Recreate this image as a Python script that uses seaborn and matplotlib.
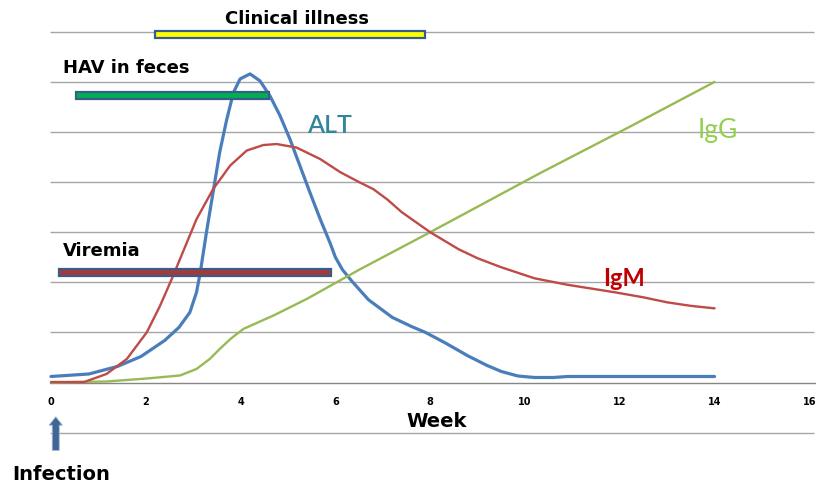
import seaborn as sns
import matplotlib.pyplot as plt
import pandas as pd

# curves (week, relative level)
alt_week = [0, 0.8, 1.4, 1.9, 2.4, 2.7, 2.93, 3.07, 3.15, 3.28, 3.42, 3.56, 3.71, 3.85, 3.99,
            4.2, 4.41, 4.62, 4.83, 5.04, 5.25, 5.46, 5.68, 5.89, 6.0, 6.15, 6.35, 6.7, 7.2,
            7.6, 7.9, 8.3, 8.8, 9.2, 9.5, 9.85, 10.2, 10.6, 10.9, 12, 14]
alt_level = [0.12, 0.17, 0.32, 0.52, 0.84, 1.1, 1.4, 1.8, 2.2, 3.0, 3.8, 4.6, 5.26, 5.79, 6.06,
             6.16, 6.02, 5.72, 5.33, 4.86, 4.33, 3.8, 3.26, 2.78, 2.5, 2.25, 2.02, 1.65, 1.3,
             1.12, 1.0, 0.8, 0.53, 0.34, 0.22, 0.13, 0.1, 0.1, 0.12, 0.12, 0.12]

igm_week = [0, 0.7, 1.17, 1.6, 2.02, 2.3, 2.55, 2.72, 3.07, 3.42, 3.78, 4.13, 4.48, 4.76, 5.18,
            5.68, 6.1, 6.5, 6.8, 7.1, 7.4, 7.7, 8.0, 8.6, 9.0, 9.5, 10.2, 10.9, 11.9, 12.5,
            13.0, 13.5, 14.0]
igm_level = [0.01, 0.01, 0.17, 0.47, 1.0, 1.53, 2.07, 2.46, 3.26, 3.86, 4.33, 4.63, 4.74, 4.76, 4.69,
             4.46, 4.2, 4.0, 3.86, 3.65, 3.4, 3.2, 3.0, 2.66, 2.48, 2.3, 2.08, 1.95, 1.8, 1.7,
             1.6, 1.53, 1.48]

igg_week = [0, 1.17, 2.02, 2.72, 3.07, 3.35, 3.56, 3.8, 4.06, 4.7, 5.4, 6.5, 8.0, 10.3, 12.2, 14.0]
igg_level = [0, 0.02, 0.08, 0.14, 0.27, 0.47, 0.67, 0.88, 1.07, 1.34, 1.67, 2.25, 3.0, 4.17, 5.1, 6.0]

# phase bars: label, start week, end week, level
phase_names = ["Clinical illness", "HAV in feces", "Viremia"]
phase_start = [2.19, 0.53, 0.17]
phase_end = [7.89, 4.6, 5.9]
phase_level = [6.95, 5.73, 2.19]
phase_colors = ["#ffff00", "#00b050", "#a23b3a"]

week_ticks = [0, 2, 4, 6, 8, 10, 12, 14, 16]

sns.set_style("white")
plt.rcParams['font.family'] = ['DejaVu Sans']
plt.rcParams['text.color'] = 'black'
plt.rcParams['xtick.labelcolor'] = 'black'

fig = plt.figure(figsize=(8.16, 4.85), dpi=100)
ax = fig.add_axes([0, 0, 1, 1])
ax.set_xlim(-1.076, 16.14)
ax.set_ylim(-2.026, 7.655)

# gridlines (incl. the stray one below the axis)
for y in [-1, 1, 2, 3, 4, 5, 6, 7]:
    ax.hlines(y, -0.02, 16.1, color="#a6a6a6", lw=1.0, zorder=1)

curves = pd.concat([
    pd.DataFrame({"week": alt_week, "level": alt_level, "marker": "ALT"}),
    pd.DataFrame({"week": igm_week, "level": igm_level, "marker": "IgM"}),
    pd.DataFrame({"week": igg_week, "level": igg_level, "marker": "IgG"}),
])
line_colors = {"ALT": "#4a7ebb", "IgM": "#be4b48", "IgG": "#98b954"}
line_widths = {"ALT": 2.3, "IgM": 1.7, "IgG": 1.7}
for name, sub in curves.groupby("marker"):
    sns.lineplot(data=sub, x="week", y="level", color=line_colors[name],
                 linewidth=line_widths[name], sort=False, ax=ax, zorder=3)

# phase bars
ax.barh(phase_level, [e - s for s, e in zip(phase_start, phase_end)], left=phase_start,
        height=0.145, color=phase_colors, edgecolor="#385d8a", linewidth=1.6, zorder=4)

# x axis sitting at level 0
for s in ["top", "right", "left"]:
    ax.spines[s].set_visible(False)
ax.spines["bottom"].set_position(("data", 0))
ax.spines["bottom"].set_bounds(-0.02, 16.15)
ax.spines["bottom"].set_color("#868686")
ax.spines["bottom"].set_linewidth(1.0)
ax.set_xticks(week_ticks)
ax.set_xticklabels([str(t) for t in week_ticks], fontsize=7, fontweight="bold")
ax.tick_params(axis="x", direction="out", length=2.5, color="#868686", pad=7.5)
ax.set_yticks([])
ax.set_xlabel("")
ax.set_ylabel("")

# labels
ax.text(3.67, 7.18, "Clinical illness", fontsize=13, fontweight="bold")
ax.text(0.25, 6.2, "HAV in feces", fontsize=13, fontweight="bold")
ax.text(0.25, 2.54, "Viremia", fontsize=13, fontweight="bold")
ax.text(7.49, -0.87, "Week", fontsize=14, fontweight="bold")
ax.text(-0.823, -1.93, "Infection", fontsize=14, fontweight="bold")
ax.text(5.4, 5.0, "ALT", fontsize=18, color="#31859c", family="Lato", fontweight="semibold")
ax.text(13.65, 4.91, "IgG", fontsize=19, color="#92d050", family="Lato")
ax.text(11.65, 1.95, "IgM", fontsize=17, color="#c00000", family="Lato", fontweight="bold")

# infection arrow
ax.annotate("", xy=(0.1, -0.63), xytext=(0.1, -1.41),
            arrowprops=dict(arrowstyle="simple,head_length=0.6,head_width=0.95,tail_width=0.5",
                            mutation_scale=10, color="#3f6696", ec="#9db3cf", lw=0.6),
            zorder=5)

fig.savefig("out.png", dpi=100)
